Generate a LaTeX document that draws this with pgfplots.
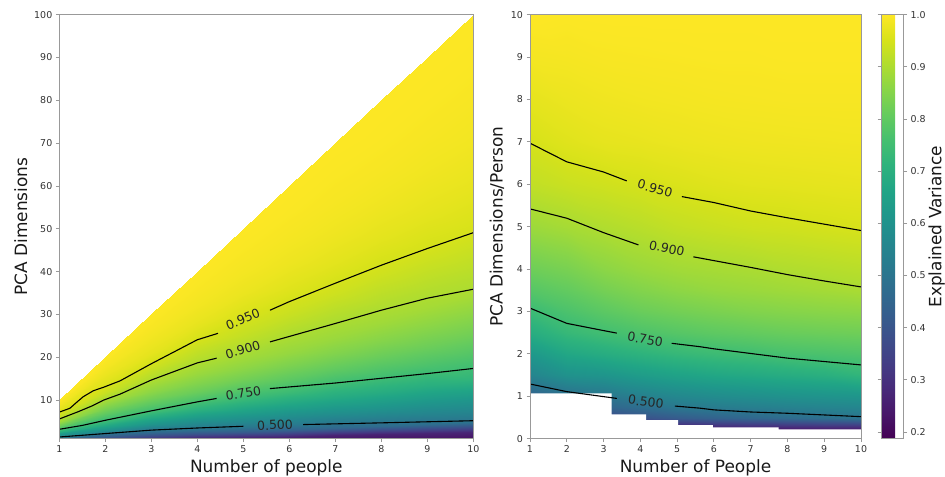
\documentclass[border=0pt]{standalone}
\usepackage{fontspec}
\setmainfont{DejaVu Sans}
\usepackage{pgfplots}
\usepackage{pgfplotstable}
\pgfplotsset{compat=1.18}
\definecolor{spine}{gray}{0.6}
\definecolor{ticktext}{gray}{0.2}

\pgfplotstableread{
N d v
1 0 0.15
2 0 0.15
3 0 0.15
4 0 0.15
5 0 0.15
6 0 0.15
7 0 0.15
8 0 0.15
9 0 0.15
10 0 0.15
1 0.25 0.22
2 0.25 0.22
3 0.25 0.23
4 0.25 0.24
5 0.25 0.25
6 0.25 0.26
7 0.25 0.265
8 0.25 0.265
9 0.25 0.27
10 0.25 0.27
1 0.5 0.30
2 0.5 0.32
3 0.5 0.35
4 0.5 0.39
5 0.5 0.42
6 0.5 0.44
7 0.5 0.455
8 0.5 0.47
9 0.5 0.483
10 0.5 0.495
1 0.75 0.37
2 0.75 0.41
3 0.75 0.45
4 0.75 0.48
5 0.75 0.51
6 0.75 0.525
7 0.75 0.535
8 0.75 0.545
9 0.75 0.553
10 0.75 0.56
1 1 0.44
2 1 0.483
3 1 0.505
4 1 0.54
5 1 0.565
6 1 0.58
7 1 0.59
8 1 0.60
9 1 0.606
10 1 0.612
1 1.5 0.555
2 1.5 0.60
3 1.5 0.61
4 1.5 0.635
5 1.5 0.655
6 1.5 0.67
7 1.5 0.68
8 1.5 0.69
9 1.5 0.70
10 1.5 0.72
1 2 0.62
2 2 0.67
3 2 0.69
4 2 0.71
5 2 0.728
6 2 0.741
7 2 0.75
8 2 0.762
9 2 0.768
10 2 0.775
1 2.5 0.69
2 2.5 0.73
3 2.5 0.752
4 2.5 0.77
5 2.5 0.785
6 2.5 0.797
7 2.5 0.805
8 2.5 0.813
9 2.5 0.818
10 2.5 0.822
1 3 0.74
2 3 0.77
3 3 0.795
4 3 0.815
5 3 0.828
6 3 0.838
7 3 0.847
8 3 0.853
9 3 0.858
10 3 0.862
1 3.5 0.785
2 3.5 0.805
3 3.5 0.83
4 3.5 0.848
5 3.5 0.862
6 3.5 0.872
7 3.5 0.878
8 3.5 0.884
9 3.5 0.89
10 3.5 0.897
1 4 0.82
2 4 0.835
3 4 0.86
4 4 0.876
5 4 0.887
6 4 0.893
7 4 0.898
8 4 0.905
9 4 0.91
10 4 0.915
1 5 0.88
2 5 0.892
3 5 0.905
4 5 0.915
5 5 0.927
6 5 0.934
7 5 0.94
8 5 0.943
9 5 0.948
10 5 0.952
1 6 0.925
2 6 0.935
3 6 0.942
4 6 0.949
5 6 0.956
6 6 0.962
7 6 0.966
8 6 0.968
9 6 0.97
10 6 0.972
1 7 0.95
2 7 0.962
3 7 0.97
4 7 0.973
5 7 0.977
6 7 0.98
7 7 0.982
8 7 0.983
9 7 0.984
10 7 0.985
1 8 0.97
2 8 0.978
3 8 0.983
4 8 0.986
5 8 0.988
6 8 0.99
7 8 0.991
8 8 0.992
9 8 0.992
10 8 0.992
1 9 0.988
2 9 0.99
3 9 0.993
4 9 0.994
5 9 0.995
6 9 0.996
7 9 0.996
8 9 0.997
9 9 0.997
10 9 0.997
1 10 1.0
2 10 0.998
3 10 0.999
4 10 0.999
5 10 0.999
6 10 0.999
7 10 0.999
8 10 0.999
9 10 0.999
10 10 0.999
}\evdata

\pgfplotsset{
  myaxis/.style={
    scale only axis,
    axis on top,
    anchor=south west,
    axis line style={spine, line width=0.8bp},
    tick style={spine, line width=0.8bp},
    tick align=outside,
    tick pos=left,
    major tick length=3.5bp,
    ticklabel style={font=\fontsize{9.5}{11}\selectfont, text=ticktext},
    /pgf/number format/assume math mode=true,
    label style={font=\fontsize{17}{20}\selectfont, text=black!90},
    colormap/viridis,
    point meta min=0.187, point meta max=1,
  },
  cline/.style={black, line width=1.1bp},
}
\tikzset{clabel/.style={font=\fontsize{12.5}{14}\selectfont, text=black!85, inner sep=0pt}}

\begin{document}
\begin{tikzpicture}
\path[use as bounding box] (0bp,0bp) rectangle (945bp,477bp);

% ---------- left panel ----------
\begin{axis}[myaxis,
  at={(59.3bp,38.3bp)},
  width=414bp, height=424bp,
  xmin=1, xmax=10, ymin=1, ymax=100,
  xtick={1,...,10}, ytick={10,20,...,100},
  xlabel={Number of people}, ylabel={PCA Dimensions},
]
\addplot[surf, shader=interp, mesh/cols=10, point meta=\thisrow{v}]
  table[x=N, y expr=\thisrow{N}*\thisrow{d}] {\evdata};
\addplot[cline] coordinates {(1,7.2) (1.23,8.1) (1.41,9.8) (1.52,10.8) (1.74,12.2) (1.96,13.0) (2.32,14.5) (3,18.5) (3.5,21.3) (4,24.1) (4.45,25.6)};
\addplot[cline] coordinates {(5.58,31.0) (6,33.0) (7,37.3) (8,41.5) (9,45.4) (10,49.1)};
\addplot[cline] coordinates {(1,5.6) (1.41,7.3) (1.7,8.6) (1.96,10.0) (2.32,11.4) (3,14.7) (4,18.7) (4.42,19.8)};
\addplot[cline] coordinates {(5.58,23.6) (7,27.9) (8,31.0) (9,33.8) (10,35.9)};
\addplot[cline] coordinates {(1,3.2) (1.5,4.1) (2,5.3) (3,7.5) (4,9.6) (4.42,10.4)};
\addplot[cline] coordinates {(5.58,12.7) (7,14.0) (8,15.1) (9,16.2) (10,17.4)};
\addplot[cline] coordinates {(1,1.4) (2,2.2) (3,3.0) (4,3.5) (5.0,3.9)};
\addplot[cline] coordinates {(6.3,4.3) (8,4.7) (10,5.2)};
\node[clabel, rotate=22] at (axis cs:4.99,28.9) {0.950};
\node[clabel, rotate=17] at (axis cs:4.99,21.8) {0.900};
\node[clabel, rotate=10] at (axis cs:5.0,11.6) {0.750};
\node[clabel, rotate=3] at (axis cs:5.69,4.2) {0.500};
\end{axis}

% ---------- right panel ----------
\begin{axis}[myaxis,
  at={(530bp,38.3bp)},
  width=331bp, height=424bp,
  xmin=1, xmax=10, ymin=0, ymax=10,
  xtick={1,...,10}, ytick={0,1,...,10},
  xlabel={Number of People}, ylabel={PCA Dimensions/Person},
  colorbar,
  colorbar shift/.style={xshift=20bp},
  colorbar style={
    at={(parent axis.north east)}, anchor=north west,
    width=22.6bp,
    ytick={0.2,0.3,...,1.0},
    /pgf/number format/assume math mode=true,
    yticklabel style={font=\fontsize{9.5}{11}\selectfont, text=ticktext,
      /pgf/number format/.cd, fixed, fixed zerofill, precision=1},
    ylabel={Explained Variance},
    ylabel style={font=\fontsize{17}{20}\selectfont, text=black!90, yshift=4bp},
    axis line style={spine, line width=0.8bp},
    tick style={spine, line width=0.8bp},
    tick align=outside,
    major tick length=3.5bp,
  },
]
\addplot[surf, shader=interp, mesh/cols=10, point meta=\thisrow{v}]
  table[x=N, y=d] {\evdata};
\addplot[fill=white, draw=none, const plot] coordinates {(1,1.07) (3.22,0.575) (4.16,0.44) (5.03,0.32) (5.97,0.27) (7.76,0.22) (10,0.22)} \closedcycle;
\addplot[cline] coordinates {(1,6.97) (2,6.53) (3,6.29) (3.63,6.08)};
\addplot[cline] coordinates {(5.13,5.71) (6,5.57) (7,5.37) (8,5.21) (9,5.06) (10,4.91)};
\addplot[cline] coordinates {(1,5.42) (2,5.2) (3,4.86) (3.95,4.57)};
\addplot[cline] coordinates {(5.44,4.29) (6,4.20) (7,4.04) (8,3.87) (9,3.72) (10,3.58)};
\addplot[cline] coordinates {(1,3.08) (2,2.72) (3,2.55) (3.36,2.49)};
\addplot[cline] coordinates {(4.85,2.25) (5.62,2.17) (6,2.12) (7,2.01) (8,1.9) (9,1.82) (10,1.74)};
\addplot[cline] coordinates {(1,1.29) (2,1.11) (3.36,0.95)};
\addplot[cline] coordinates {(4.94,0.77) (5.62,0.72) (6,0.68) (7,0.63) (8,0.60) (9,0.56) (10,0.52)};
\node[clabel, rotate=-16] at (axis cs:4.4,5.9) {0.950};
\node[clabel, rotate=-12] at (axis cs:4.72,4.49) {0.900};
\node[clabel, rotate=-10] at (axis cs:4.13,2.34) {0.750};
\node[clabel, rotate=-7.5] at (axis cs:4.15,0.87) {0.500};
\end{axis}
\end{tikzpicture}
\end{document}
